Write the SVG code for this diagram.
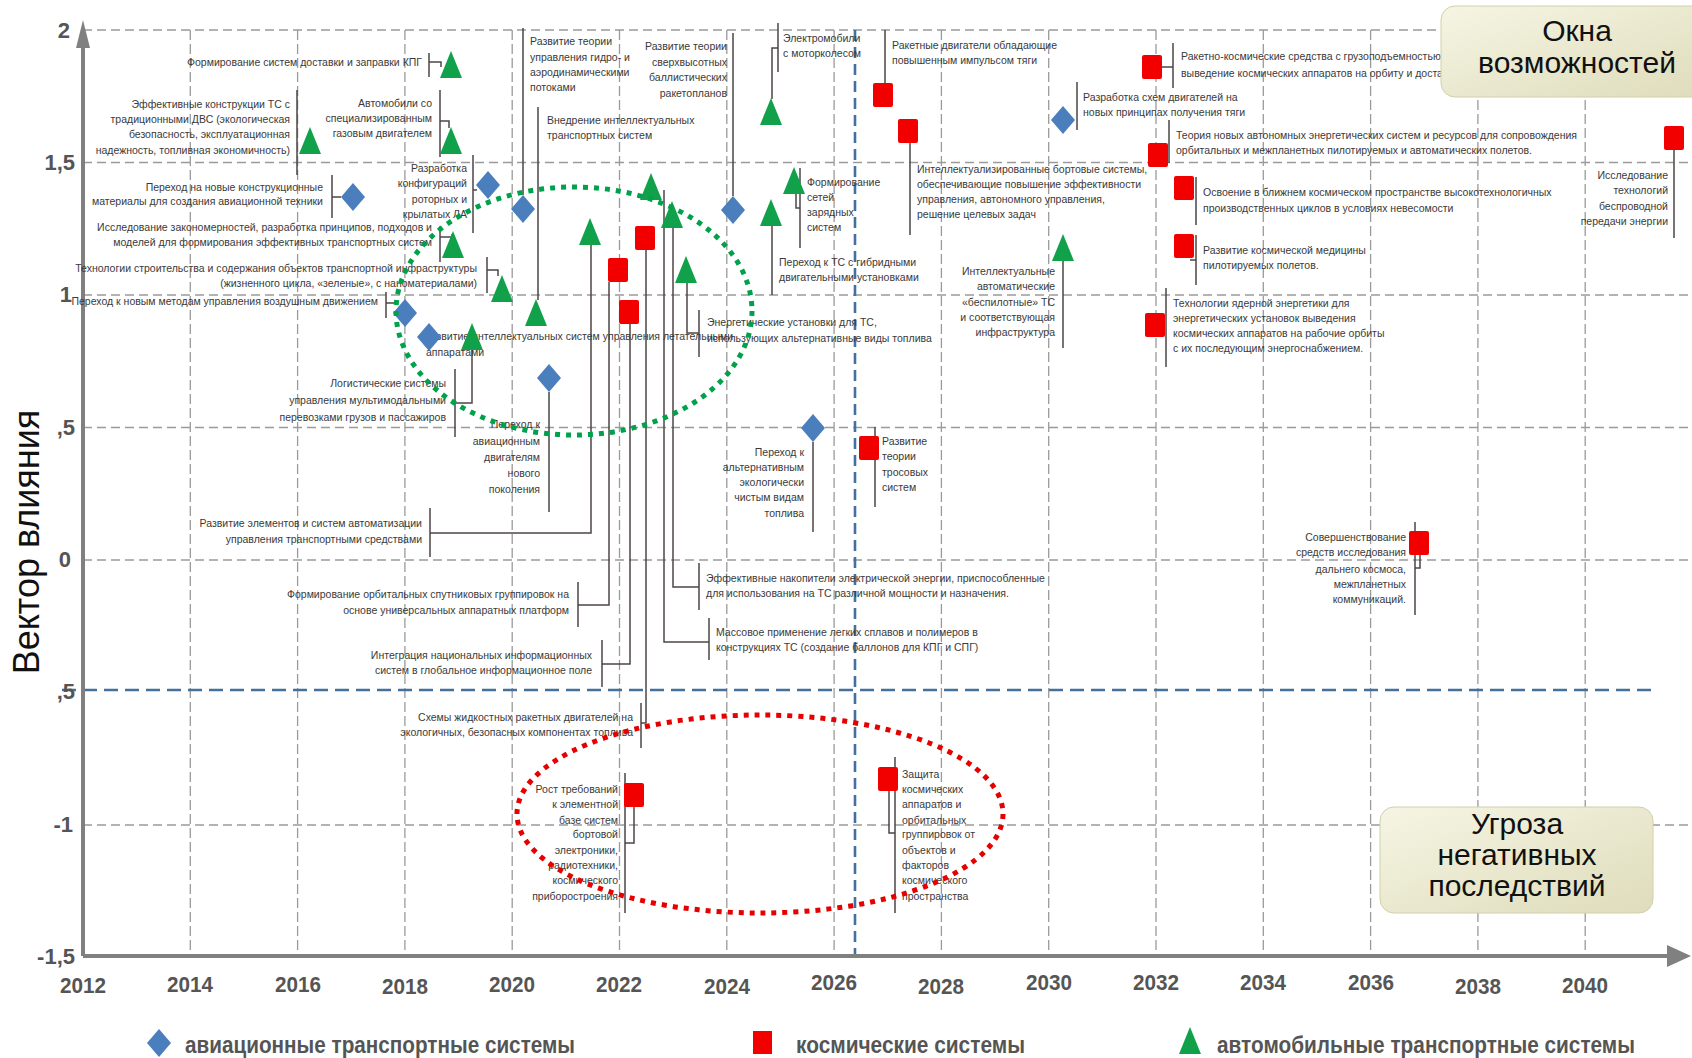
<svg xmlns="http://www.w3.org/2000/svg" xmlns:xlink="http://www.w3.org/1999/xlink" width="1692" height="1058" viewBox="0 0 1692 1058">
<style>
.t{font-family:"Liberation Sans",Arial,sans-serif;font-size:10.5px;fill:#3a3a3a}
.e{text-anchor:end}
.ln{stroke:#4d4646;stroke-width:1.5;fill:none}
.gh{stroke:#9a9a9a;stroke-width:1.3;stroke-dasharray:9 5;fill:none}
.gv{stroke:#9a9a9a;stroke-width:1.3;stroke-dasharray:10 4;fill:none}
.ax{font-family:"Liberation Sans",Arial,sans-serif;font-weight:bold;fill:#555;font-size:22px}
.yr{text-anchor:middle}
.lg{font-family:"Liberation Sans",Arial,sans-serif;font-weight:bold;fill:#555;font-size:23px}
.bx{font-family:"Liberation Sans",Arial,sans-serif;fill:#111;text-anchor:middle}
</style>
<defs>
<path id="dia" d="M0,-14 L12,0 L0,14 L-12,0 Z" fill="#4a7ebd"/>
<path id="tri" d="M0,-14 L11,13 L-11,13 Z" fill="#12a14b"/>
<rect id="sq" x="-10" y="-12" width="20" height="24" rx="2" fill="#f20000"/>
<linearGradient id="kh" x1="0" y1="0" x2="1" y2="1">
<stop offset="0" stop-color="#f6f5e4"/>
<stop offset="1" stop-color="#dedcba"/>
</linearGradient>
</defs>
<rect width="1692" height="1058" fill="#fff"/>

<g id="grid">
<path class="gh" d="M83,30 H1692 M83,162.5 H1692 M83,295 H1692 M83,427.5 H1692 M83,560 H1692 M83,825 H1692"/>
<path class="gv" d="M190.3,30 V955 M297.6,30 V955 M404.9,30 V955 M512.2,30 V955 M619.5,30 V955 M726.8,30 V955 M834.1,30 V955 M941.4,30 V955 M1048.7,30 V955 M1156,30 V955 M1263.3,30 V955 M1370.6,30 V955 M1477.9,30 V955 M1585.2,30 V955"/>
<path d="M62,690 H1656" stroke="#44709d" stroke-width="2.6" stroke-dasharray="14 7" fill="none"/>
<path d="M855,30 V955" stroke="#44709d" stroke-width="2.6" stroke-dasharray="11 6" fill="none"/>
</g>

<g id="axes">
<path d="M83,956 V42 M83,956 H1672" stroke="#808080" stroke-width="4" fill="none"/>
<path d="M83,20 L76,48 L90,48 Z" fill="#808080"/>
<path d="M1691,956 L1667,945 L1667,967 Z" fill="#808080"/>
<text class="ax" text-anchor="end"><tspan x="70" y="38">2</tspan><tspan x="75" y="170">1,5</tspan><tspan x="72" y="302">1</tspan><tspan x="75" y="435">,5</tspan><tspan x="71" y="567">0</tspan><tspan x="75" y="699">,5</tspan><tspan x="73" y="832">-1</tspan><tspan x="75" y="964">-1,5</tspan></text>
<g class="ax yr">
<text x="83" y="993" textLength="46" lengthAdjust="spacingAndGlyphs">2012</text>
<text x="190" y="992" textLength="46" lengthAdjust="spacingAndGlyphs">2014</text>
<text x="298" y="992" textLength="46" lengthAdjust="spacingAndGlyphs">2016</text>
<text x="405" y="994" textLength="46" lengthAdjust="spacingAndGlyphs">2018</text>
<text x="512" y="992" textLength="46" lengthAdjust="spacingAndGlyphs">2020</text>
<text x="619" y="992" textLength="46" lengthAdjust="spacingAndGlyphs">2022</text>
<text x="727" y="994" textLength="46" lengthAdjust="spacingAndGlyphs">2024</text>
<text x="834" y="990" textLength="46" lengthAdjust="spacingAndGlyphs">2026</text>
<text x="941" y="994" textLength="46" lengthAdjust="spacingAndGlyphs">2028</text>
<text x="1049" y="990" textLength="46" lengthAdjust="spacingAndGlyphs">2030</text>
<text x="1156" y="990" textLength="46" lengthAdjust="spacingAndGlyphs">2032</text>
<text x="1263" y="990" textLength="46" lengthAdjust="spacingAndGlyphs">2034</text>
<text x="1371" y="990" textLength="46" lengthAdjust="spacingAndGlyphs">2036</text>
<text x="1478" y="994" textLength="46" lengthAdjust="spacingAndGlyphs">2038</text>
<text x="1585" y="993" textLength="46" lengthAdjust="spacingAndGlyphs">2040</text>
</g>
<text x="0" y="0" transform="translate(39,542) rotate(-90)" font-family="Liberation Sans,Arial,sans-serif" font-size="36" fill="#111" text-anchor="middle">Вектор влияния</text>
</g>

<g id="connectors">
<path class="ln" d="M429,53 V77 M429,62 H441 V67"/>
<path class="ln" d="M297,90 V175"/>
<path class="ln" d="M440,90 V157 M440,121 H449 V128"/>
<path class="ln" d="M332,175 V218 M332,197 H341"/>
<path class="ln" d="M473,155 V233 M473,190 H477"/>
<path class="ln" d="M440,226 V262 M440,237 H452 V234"/>
<path class="ln" d="M487,257 V293 M487,270 H498 V276"/>
<path class="ln" d="M386,292 V318 M386,303 H395"/>
<path class="ln" d="M455,369 V437 M455,403 H472 V350"/>
<path class="ln" d="M549,392 V512"/>
<path class="ln" d="M523,28 V195"/>
<path class="ln" d="M538,107 V300"/>
<path class="ln" d="M733,33 V196"/>
<path class="ln" d="M778,23 V72 M778,48 H772 V99"/>
<path class="ln" d="M885,30 V83"/>
<path class="ln" d="M910,143 V235"/>
<path class="ln" d="M800,168 V248 M800,208 H796 V194"/>
<path class="ln" d="M772,226 V295"/>
<path class="ln" d="M591,245 V533 H430 M430,508 V557"/>
<path class="ln" d="M609,282 V605 H578 M578,582 V627"/>
<path class="ln" d="M630,324 V664 H602 M602,640 V687"/>
<path class="ln" d="M646,250 V723 H641 M641,703 V748"/>
<path class="ln" d="M664,190 V642 H709 M709,618 V660"/>
<path class="ln" d="M673,228 V587 H699 M699,563 V610"/>
<path class="ln" d="M687,283 V333 H699 M699,310 V357"/>
<path class="ln" d="M813,442 V532"/>
<path class="ln" d="M875,427 V507"/>
<path class="ln" d="M625,773 V913 M625,843 H634 V807"/>
<path class="ln" d="M895,757 V913 M895,833 H889 V791"/>
<path class="ln" d="M1173,43 V88 M1162,67 H1173"/>
<path class="ln" d="M1077,82 V130"/>
<path class="ln" d="M1169,120 V163"/>
<path class="ln" d="M1196,177 V225"/>
<path class="ln" d="M1196,235 V285 M1190,260 H1196"/>
<path class="ln" d="M1063,261 V348"/>
<path class="ln" d="M1166,288 V367"/>
<path class="ln" d="M1674,150 V238"/>
<path class="ln" d="M1415,522 V615 M1415,568 H1420 V555"/>
</g>

<g id="n1"><use href="#tri" x="451" y="65"/><text class="t e"><tspan x="422" y="66">Формирование систем доставки и заправки КПГ</tspan></text></g>
<g id="n2"><use href="#tri" x="310" y="141"/><text class="t e"><tspan x="290" y="108">Эффективные конструкции ТС с</tspan><tspan x="290" y="123">традиционными ДВС (экологическая</tspan><tspan x="290" y="138">безопасность, эксплуатационная</tspan><tspan x="290" y="154">надежность, топливная экономичность)</tspan></text></g>
<g id="n3"><use href="#tri" x="451" y="141"/><text class="t e"><tspan x="432" y="107">Автомобили со</tspan><tspan x="432" y="122">специализированным</tspan><tspan x="432" y="137">газовым двигателем</tspan></text></g>
<g id="n4"><use href="#dia" x="353" y="197"/><text class="t e"><tspan x="323" y="191">Переход на новые конструкционные</tspan><tspan x="323" y="205">материалы для создания авиационной техники</tspan></text></g>
<g id="n5"><use href="#dia" x="488" y="185"/><text class="t e"><tspan x="467" y="172">Разработка</tspan><tspan x="467" y="187">конфигураций</tspan><tspan x="467" y="203">роторных и</tspan><tspan x="467" y="218">крылатых ЛА</tspan></text></g>
<g id="n6"><use href="#tri" x="453" y="245"/><text class="t e"><tspan x="432" y="231">Исследование закономерностей, разработка принципов, подходов и</tspan><tspan x="432" y="246">моделей для формирования эффективных транспортных систем</tspan></text></g>
<g id="n7"><use href="#tri" x="502" y="289"/><text class="t e"><tspan x="477" y="272">Технологии строительства и содержания объектов транспортной инфраструктуры</tspan><tspan x="477" y="287">(жизненного цикла, «зеленые», с наноматериалами)</tspan></text></g>
<g id="n8"><use href="#dia" x="405" y="313"/><text class="t e"><tspan x="378" y="305">Переход к новым методам управления воздушным движением</tspan></text></g>
<g id="n9"><text class="t"><tspan x="424" y="340">Развитие интеллектуальных систем управления летательными</tspan><tspan x="426" y="356">аппаратами</tspan></text><use href="#dia" x="429" y="337"/></g>
<g id="n10"><use href="#tri" x="472" y="337"/><text class="t e"><tspan x="446" y="387">Логистические системы</tspan><tspan x="446" y="404">управления мультимодальными</tspan><tspan x="446" y="421">перевозками грузов и пассажиров</tspan></text></g>
<g id="n11"><use href="#dia" x="549" y="378"/><text class="t e"><tspan x="540" y="428">Переход к</tspan><tspan x="540" y="445">авиационным</tspan><tspan x="540" y="461">двигателям</tspan><tspan x="540" y="477">нового</tspan><tspan x="540" y="493">поколения</tspan></text></g>
<g id="n12"><use href="#dia" x="523" y="209"/><text class="t"><tspan x="530" y="45">Развитие теории</tspan><tspan x="530" y="61">управления гидро- и</tspan><tspan x="530" y="76">аэродинамическими</tspan><tspan x="530" y="91">потоками</tspan></text></g>
<g id="n13"><use href="#tri" x="536" y="313"/><text class="t"><tspan x="547" y="124">Внедрение интеллектуальных</tspan><tspan x="547" y="139">транспортных систем</tspan></text></g>
<g id="n14"><use href="#dia" x="733" y="210"/><text class="t e"><tspan x="727" y="50">Развитие теории</tspan><tspan x="727" y="66">сверхвысотных</tspan><tspan x="727" y="81">баллистических</tspan><tspan x="727" y="97">ракетопланов</tspan></text></g>
<g id="n15"><use href="#tri" x="771" y="112"/><text class="t"><tspan x="783" y="42">Электромобили</tspan><tspan x="783" y="57">с моторколесом</tspan></text></g>
<g id="n16"><use href="#sq" x="883" y="95"/><text class="t"><tspan x="892" y="49">Ракетные двигатели обладающие</tspan><tspan x="892" y="64">повышенным импульсом тяги</tspan></text></g>
<g id="n17"><use href="#sq" x="908" y="131"/><text class="t"><tspan x="917" y="173">Интеллектуализированные бортовые системы,</tspan><tspan x="917" y="188">обеспечивающие повышение эффективности</tspan><tspan x="917" y="203">управления, автономного управления,</tspan><tspan x="917" y="218">решение целевых задач</tspan></text></g>
<g id="n18"><use href="#tri" x="794" y="181"/><text class="t"><tspan x="807" y="186">Формирование</tspan><tspan x="807" y="201">сетей</tspan><tspan x="807" y="216">зарядных</tspan><tspan x="807" y="231">систем</tspan></text></g>
<g id="n19"><use href="#tri" x="771" y="213"/><text class="t"><tspan x="779" y="266">Переход к ТС с гибридными</tspan><tspan x="779" y="281">двигательными установками</tspan></text></g>
<g id="n20"><use href="#tri" x="590" y="232"/><text class="t e"><tspan x="422" y="527">Развитие элементов и систем автоматизации</tspan><tspan x="422" y="543">управления транспортными средствами</tspan></text></g>
<g id="n21"><use href="#sq" x="618" y="270"/><text class="t e"><tspan x="569" y="598">Формирование орбитальных спутниковых группировок на</tspan><tspan x="569" y="614">основе универсальных аппаратных платформ</tspan></text></g>
<g id="n22"><use href="#sq" x="629" y="312"/><text class="t e"><tspan x="592" y="659">Интеграция национальных информационных</tspan><tspan x="592" y="674">систем в глобальное информационное поле</tspan></text></g>
<g id="n23"><use href="#sq" x="645" y="238"/><text class="t e"><tspan x="633" y="721">Схемы жидкостных ракетных двигателей на</tspan><tspan x="633" y="736">экологичных, безопасных компонентах топлива</tspan></text></g>
<g id="n24"><use href="#tri" x="651" y="187"/><text class="t"><tspan x="716" y="636">Массовое применение легких сплавов и полимеров в</tspan><tspan x="716" y="651">конструкциях ТС (создание баллонов для КПГ и СПГ)</tspan></text></g>
<g id="n25"><use href="#tri" x="672" y="215"/><text class="t"><tspan x="706" y="582">Эффективные накопители электрической энергии, приспособленные</tspan><tspan x="706" y="597">для использования на ТС различной мощности и назначения.</tspan></text></g>
<g id="n26"><use href="#tri" x="686" y="270"/><text class="t"><tspan x="707" y="326">Энергетические установки для ТС,</tspan><tspan x="707" y="342">использующих альтернативные виды топлива</tspan></text></g>
<g id="n27"><use href="#dia" x="813" y="428"/><text class="t e"><tspan x="804" y="456">Переход к</tspan><tspan x="804" y="471">альтернативным</tspan><tspan x="804" y="486">экологически</tspan><tspan x="804" y="501">чистым видам</tspan><tspan x="804" y="517">топлива</tspan></text></g>
<g id="n28"><use href="#sq" x="869" y="448"/><text class="t"><tspan x="882" y="445">Развитие</tspan><tspan x="882" y="460">теории</tspan><tspan x="882" y="476">тросовых</tspan><tspan x="882" y="491">систем</tspan></text></g>
<g id="n29"><use href="#sq" x="634" y="795"/><text class="t e"><tspan x="618" y="793">Рост требований</tspan><tspan x="618" y="808">к элементной</tspan><tspan x="618" y="824">базе систем</tspan><tspan x="618" y="838">бортовой</tspan><tspan x="618" y="854">электроники,</tspan><tspan x="618" y="869">радиотехники,</tspan><tspan x="618" y="884">космического</tspan><tspan x="618" y="900">приборостроения</tspan></text></g>
<g id="n30"><use href="#sq" x="888" y="779"/><text class="t"><tspan x="902" y="778">Защита</tspan><tspan x="902" y="793">космических</tspan><tspan x="902" y="808">аппаратов и</tspan><tspan x="902" y="824">орбитальных</tspan><tspan x="902" y="838">группировок от</tspan><tspan x="902" y="854">объектов и</tspan><tspan x="902" y="869">факторов</tspan><tspan x="902" y="884">космического</tspan><tspan x="902" y="900">пространства</tspan></text></g>
<g id="n31"><use href="#sq" x="1152" y="67"/><text class="t"><tspan x="1181" y="60">Ракетно-космические средства с грузоподъемностью</tspan><tspan x="1181" y="77">выведение космических аппаратов на орбиту и доставки</tspan></text></g>
<g id="n32"><use href="#dia" x="1063" y="120"/><text class="t"><tspan x="1083" y="101">Разработка схем двигателей на</tspan><tspan x="1083" y="116">новых принципах получения тяги</tspan></text></g>
<g id="n33"><use href="#sq" x="1158" y="155"/><text class="t"><tspan x="1176" y="139">Теория новых автономных энергетических систем и ресурсов для сопровождения</tspan><tspan x="1176" y="154">орбитальных и межпланетных пилотируемых и автоматических полетов.</tspan></text></g>
<g id="n34"><use href="#sq" x="1184" y="188"/><text class="t"><tspan x="1203" y="196">Освоение в ближнем космическом пространстве высокотехнологичных</tspan><tspan x="1203" y="212">производственных циклов в условиях невесомости</tspan></text></g>
<g id="n35"><use href="#sq" x="1184" y="246"/><text class="t"><tspan x="1203" y="254">Развитие космической медицины</tspan><tspan x="1203" y="269">пилотируемых полетов.</tspan></text></g>
<g id="n36"><use href="#tri" x="1063" y="248"/><text class="t e"><tspan x="1055" y="275">Интеллектуальные</tspan><tspan x="1055" y="290">автоматические</tspan><tspan x="1055" y="306">«беспилотные» ТС</tspan><tspan x="1055" y="321">и соответствующая</tspan><tspan x="1055" y="336">инфраструктура</tspan></text></g>
<g id="n37"><use href="#sq" x="1155" y="325"/><text class="t"><tspan x="1173" y="307">Технологии ядерной энергетики для</tspan><tspan x="1173" y="322">энергетических установок выведения</tspan><tspan x="1173" y="337">космических аппаратов на рабочие орбиты</tspan><tspan x="1173" y="352">с их последующим энергоснабжением.</tspan></text></g>
<g id="n38"><use href="#sq" x="1674" y="138"/><text class="t e"><tspan x="1668" y="179">Исследование</tspan><tspan x="1668" y="194">технологий</tspan><tspan x="1668" y="210">беспроводной</tspan><tspan x="1668" y="225">передачи энергии</tspan></text></g>
<g id="n39"><use href="#sq" x="1419" y="543"/><text class="t e"><tspan x="1406" y="541">Совершенствование</tspan><tspan x="1406" y="556">средств исследования</tspan><tspan x="1406" y="573">дальнего космоса,</tspan><tspan x="1406" y="588">межпланетных</tspan><tspan x="1406" y="603">коммуникаций.</tspan></text></g>

<g id="ellipses" fill="none" stroke-width="5" stroke-dasharray="5 6">
<ellipse cx="574" cy="311" rx="178" ry="124" stroke="#00a14b"/>
<ellipse cx="760" cy="814" rx="243" ry="99" stroke="#e60000"/>
</g>

<g id="box-windows">
<rect x="1441" y="6" width="270" height="91" rx="14" fill="url(#kh)" stroke="#d2d0aa"/>
<text class="bx" font-size="30"><tspan x="1577" y="41">Окна</tspan><tspan x="1577" y="73">возможностей</tspan></text>
</g>
<g id="box-threat">
<rect x="1380" y="807" width="273" height="106" rx="14" fill="url(#kh)" stroke="#d2d0aa"/>
<text class="bx" font-size="30"><tspan x="1517" y="834">Угроза</tspan><tspan x="1517" y="865">негативных</tspan><tspan x="1517" y="896">последствий</tspan></text>
</g>

<g id="legend">
<use href="#dia" x="159" y="1043"/>
<text class="lg" x="185" y="1053" textLength="390" lengthAdjust="spacingAndGlyphs">авиационные транспортные системы</text>
<rect x="753" y="1031" width="19" height="23" fill="#f20000"/>
<text class="lg" x="796" y="1053" textLength="229" lengthAdjust="spacingAndGlyphs">космические системы</text>
<path d="M1190,1027 L1201,1054 L1179,1054 Z" fill="#12a14b"/>
<text class="lg" x="1217" y="1053" textLength="418" lengthAdjust="spacingAndGlyphs">автомобильные транспортные системы</text>
</g>
</svg>
